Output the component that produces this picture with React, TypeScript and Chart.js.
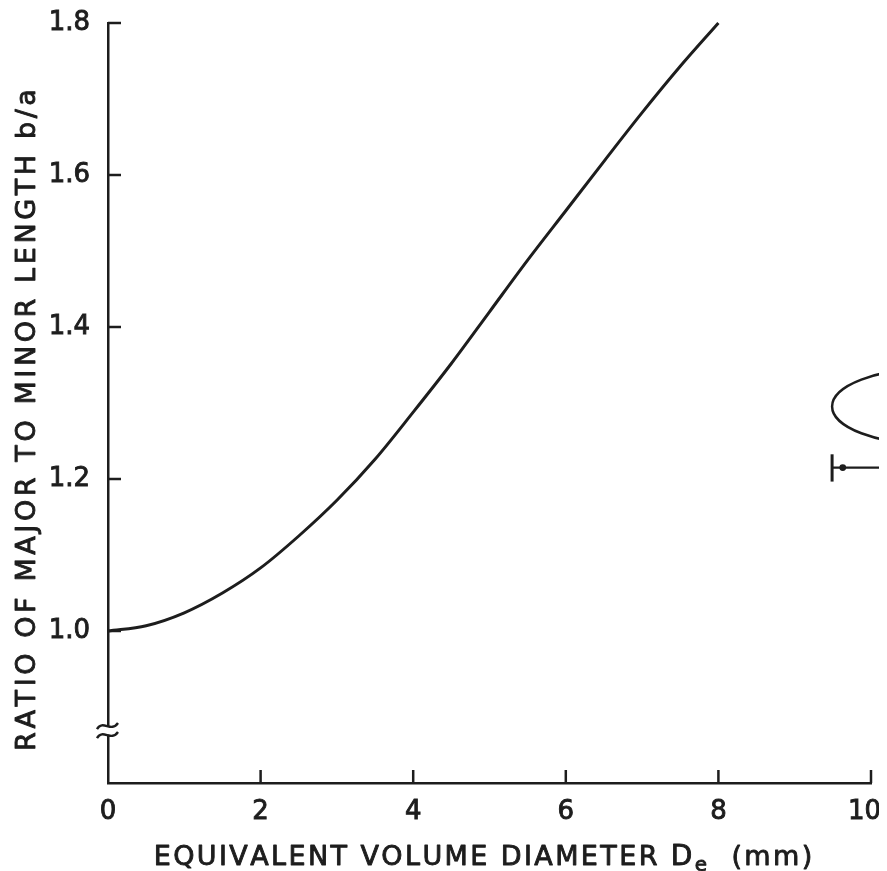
import React, { useEffect, useRef } from "react";
import { Chart, registerables } from "chart.js";

Chart.register(...registerables);

// ---- data ----
const DIAMETER_MM = [0, 0.5, 1, 1.5, 2, 2.5, 3, 3.5, 4, 4.5, 5, 5.5, 6, 6.5, 7, 7.5, 8];
const AXIS_RATIO = [1.0, 1.007, 1.024, 1.05, 1.083, 1.125, 1.172, 1.226, 1.288, 1.352, 1.42, 1.488, 1.553, 1.618, 1.682, 1.743, 1.8];
const X_TICKS = [0, 2, 4, 6, 8, 10];
const Y_TICKS = [1.0, 1.2, 1.4, 1.6, 1.8];
const X_TITLE = "EQUIVALENT VOLUME DIAMETER";
const X_SYMBOL = "D";
const X_SYMBOL_SUB = "e";
const X_UNIT = "(mm)";
const Y_TITLE = "RATIO OF MAJOR TO MINOR LENGTH b/a";

const INK = "#1d1d1d";
const FONT = "'DejaVu Sans', sans-serif";

type Part = { text: string; size: number; dy: number };

function drawSpaced(ctx: CanvasRenderingContext2D, parts: Part[], cx: number, baseline: number, spacing: number) {
  const chars: { ch: string; size: number; dy: number; w: number }[] = [];
  parts.forEach((p) => {
    ctx.font = `${p.size}px ${FONT}`;
    for (const ch of p.text) chars.push({ ch, size: p.size, dy: p.dy, w: ctx.measureText(ch).width });
  });
  const total = chars.reduce((s, c) => s + c.w, 0) + spacing * (chars.length - 1);
  let x = cx - total / 2;
  ctx.textBaseline = "alphabetic";
  ctx.textAlign = "left";
  ctx.lineWidth = 0.9;
  ctx.lineJoin = "round";
  chars.forEach((c) => {
    ctx.font = `${c.size}px ${FONT}`;
    ctx.fillText(c.ch, x, baseline + c.dy);
    ctx.strokeText(c.ch, x, baseline + c.dy);
    x += c.w + spacing;
  });
}

const decorPlugin = {
  id: "decor",
  afterDraw(chart: any) {
    const ctx: CanvasRenderingContext2D = chart.ctx;
    const xs = chart.scales.x;
    const ys = chart.scales.y;
    const area = chart.chartArea;
    ctx.save();
    ctx.strokeStyle = INK;
    ctx.fillStyle = INK;
    ctx.lineWidth = 2.5;
    ctx.lineCap = "butt";

    // inward tick marks
    xs.ticks.forEach((t: any) => {
      if (t.value === 0) return;
      const px = xs.getPixelForValue(t.value);
      ctx.beginPath();
      ctx.moveTo(px, area.bottom);
      ctx.lineTo(px, area.bottom - 13);
      ctx.stroke();
    });
    ys.ticks.forEach((t: any) => {
      const py = ys.getPixelForValue(t.value);
      ctx.beginPath();
      ctx.moveTo(area.left, py);
      ctx.lineTo(area.left + 13, py);
      ctx.stroke();
    });

    // axis break symbol
    const by = ys.getPixelForValue(0.869);
    const bx = area.left;
    ctx.fillStyle = "#ffffff";
    ctx.fillRect(bx - 3, by - 4, 6, 8);
    ctx.lineWidth = 2.4;
    [-4.5, 4.5].forEach((off) => {
      ctx.beginPath();
      ctx.moveTo(bx - 11, by + off + 3);
      ctx.bezierCurveTo(bx - 5, by + off - 7, bx + 3, by + off + 7, bx + 10, by + off - 3);
      ctx.stroke();
    });

    // drop sketch at right
    ctx.lineWidth = 2.5;
    const dropCx = xs.getPixelForValue(10.8);
    const dropCy = ys.getPixelForValue(1.2955);
    const rx = dropCx - xs.getPixelForValue(10.8 - 1.31);
    const ry = ys.getPixelForValue(1.2955 - 0.05) - dropCy;
    ctx.beginPath();
    ctx.ellipse(dropCx, dropCy, rx, ry, 0, 0, Math.PI * 2);
    ctx.stroke();
    // I-beam marker
    const ibx = xs.getPixelForValue(9.49);
    const iby = ys.getPixelForValue(1.215);
    ctx.lineWidth = 3;
    ctx.beginPath();
    ctx.moveTo(ibx, ys.getPixelForValue(1.2325));
    ctx.lineTo(ibx, ys.getPixelForValue(1.1966));
    ctx.stroke();
    ctx.lineWidth = 2.4;
    ctx.beginPath();
    ctx.moveTo(ibx, iby);
    ctx.lineTo(chart.width + 5, iby);
    ctx.stroke();
    ctx.fillStyle = INK;
    ctx.beginPath();
    ctx.arc(xs.getPixelForValue(9.63), iby, 3.4, 0, Math.PI * 2);
    ctx.fill();

    // axis titles
    ctx.fillStyle = INK;
    ctx.strokeStyle = INK;
    drawSpaced(
      ctx,
      [
        { text: X_TITLE + " ", size: 27, dy: 0 },
        { text: X_SYMBOL, size: 28, dy: 0 },
        { text: X_SYMBOL_SUB, size: 20, dy: 6 },
        { text: "  " + X_UNIT, size: 27, dy: 0 },
      ],
      475,
      857,
      2.4
    );
    ctx.save();
    ctx.translate(27, 412);
    ctx.rotate(-Math.PI / 2);
    drawSpaced(ctx, [{ text: Y_TITLE, size: 27, dy: 0 }], 0, 0, 3.6);
    ctx.restore();

    ctx.restore();
  },
};

export default function App() {
  const ref = useRef<HTMLCanvasElement | null>(null);
  useEffect(() => {
    document.documentElement.style.overflow = "hidden";
    document.body.style.overflow = "hidden";
    if (!ref.current) return;
    const chart = new Chart(ref.current, {
      type: "line",
      data: {
        datasets: [
          {
            data: DIAMETER_MM.map((x, i) => ({ x, y: AXIS_RATIO[i] })),
            borderColor: INK,
            borderWidth: 3,
            pointRadius: 0,
            cubicInterpolationMode: "monotone",
            fill: false,
            clip: false,
          } as any,
        ],
      },
      options: {
        animation: false,
        responsive: false,
        layout: { padding: { left: 0, right: 16, top: 15, bottom: 0 } },
        plugins: { legend: { display: false }, tooltip: { enabled: false }, title: { display: false } },
        scales: {
          x: {
            type: "linear",
            min: 0,
            max: 10,
            afterBuildTicks: (s: any) => {
              s.ticks = X_TICKS.map((v) => ({ value: v }));
            },
            afterFit: (s: any) => {
              s.height = 88;
              s.paddingLeft = 0;
              s.paddingRight = 0;
            },
            grid: { display: false, drawTicks: false },
            border: { display: true, color: INK, width: 2.5 },
            ticks: {
              color: INK,
              font: { family: FONT, size: 26 },
              textStrokeColor: INK,
              textStrokeWidth: 0.9,
              padding: 14,
              maxRotation: 0,
              autoSkip: false,
              callback: (v: any) => (Number(v) === 10 ? "10\u2002" : String(v)),
            },
          },
          y: {
            type: "linear",
            min: 0.8,
            max: 1.8,
            afterBuildTicks: (s: any) => {
              s.ticks = Y_TICKS.map((v) => ({ value: v }));
            },
            afterFit: (s: any) => {
              s.width = 100;
              s.paddingTop = 0;
              s.paddingBottom = 0;
            },
            grid: { display: false, drawTicks: false },
            border: { display: true, color: INK, width: 2.5 },
            ticks: {
              color: INK,
              font: { family: FONT, size: 26 },
              textStrokeColor: INK,
              textStrokeWidth: 0.9,
              padding: 18,
              autoSkip: false,
              callback: (v: any) => Number(v).toFixed(1),
            },
          },
        },
      },
      plugins: [decorPlugin],
    });
    return () => chart.destroy();
  }, []);
  return (
    <div style={{ width: 879, height: 863 }}>
      <canvas ref={ref} width={879} height={863} style={{ display: "block" }} />
    </div>
  );
}
